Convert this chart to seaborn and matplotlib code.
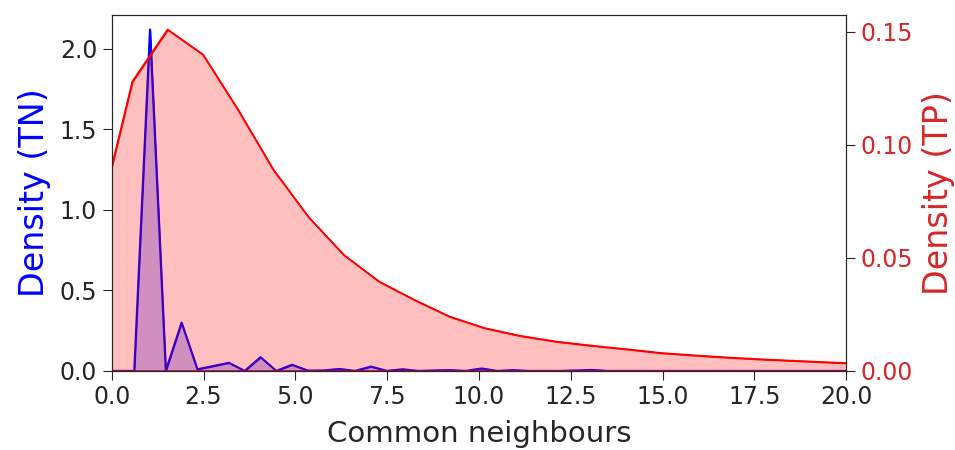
import numpy as np
import pandas as pd
import matplotlib
matplotlib.use("Agg")
import matplotlib.pyplot as plt
import seaborn as sns

# density curves (TN = true negatives, TP = true positives)
tn_x = [-0.25, 0.18, 0.61, 1.04, 1.47, 1.90, 2.33, 2.76, 3.19, 3.62, 4.05, 4.48,
        4.91, 5.34, 5.77, 6.20, 6.63, 7.06, 7.49, 7.92, 8.35, 8.78, 9.21, 9.64,
        10.07, 10.50, 10.93, 11.36, 11.79, 12.22, 12.65, 13.08, 13.51, 13.94,
        15.0, 17.5, 20.5]
tn_y = [0.0, 0.0, 0.0, 2.12, 0.0, 0.30, 0.01, 0.03, 0.05, 0.0, 0.085, 0.0,
        0.038, 0.002, 0.003, 0.012, 0.0, 0.027, 0.0, 0.01, 0.0, 0.003, 0.005, 0.0,
        0.015, 0.0, 0.005, 0.0, 0.0, 0.0, 0.003, 0.006, 0.0, 0.0,
        0.0, 0.0, 0.0]

tp_x = [-0.40, 0.56, 1.52, 2.48, 3.44, 4.40, 5.36, 6.32, 7.28, 8.24, 9.20, 10.16,
        11.12, 12.08, 13.04, 14.00, 14.96, 15.92, 16.88, 17.84, 18.80, 19.76, 20.72]
tp_y = [0.0636, 0.128, 0.151, 0.140, 0.1155, 0.089, 0.068, 0.0513, 0.0395, 0.0314,
        0.024, 0.0189, 0.0155, 0.0130, 0.0112, 0.0096, 0.0079, 0.0068, 0.0058,
        0.0050, 0.0043, 0.0036, 0.0031]

tn = pd.DataFrame({"x": tn_x, "y": tn_y})
tp = pd.DataFrame({"x": tp_x, "y": tp_y})

sns.set_style("ticks")
plt.rcParams["font.family"] = ["DejaVu Sans"]

fig, ax = plt.subplots(figsize=(9.55, 4.5), dpi=100)
fig.subplots_adjust(left=0.117, right=0.886, top=0.967, bottom=0.176)

# TN on the left axis
ax.fill_between(tn["x"], tn["y"], facecolor=(0, 0, 1, 0.25), edgecolor="blue", linewidth=1.2)
sns.lineplot(data=tn, x="x", y="y", color="blue", linewidth=1.4, ax=ax)
ax.set_ylim(0, 2.21)
ax.set_xlim(0, 20)
ax.set_yticks([0.0, 0.5, 1.0, 1.5, 2.0])
ax.set_ylabel("Density (TN)", color="blue", fontsize=24, labelpad=6)
ax.set_xlabel("Common neighbours", fontsize=21, labelpad=8)
ax.tick_params(labelsize=17, colors="0.15", length=6.5, pad=4)

# TP on the twin axis
ax2 = ax.twinx()
ax2.fill_between(tp["x"], tp["y"], facecolor=(1, 0, 0, 0.25), edgecolor="red", linewidth=1.2)
sns.lineplot(data=tp, x="x", y="y", color="red", linewidth=1.2, ax=ax2)
ax2.set_ylim(0, 0.1575)
ax2.set_xlim(0, 20)
ax2.set_yticks([0.0, 0.05, 0.10, 0.15])
ax2.set_ylabel("Density (TP)", color="tab:red", fontsize=24, labelpad=6)
ax2.tick_params(axis="y", labelsize=17, labelcolor="tab:red", colors="0.15", length=6.5, pad=4)
ax2.tick_params(axis="y", labelcolor="tab:red")

for a in (ax, ax2):
    for s in a.spines.values():
        s.set_visible(True)
        s.set_color("0.15")

fig.savefig("out.png", dpi=100)
